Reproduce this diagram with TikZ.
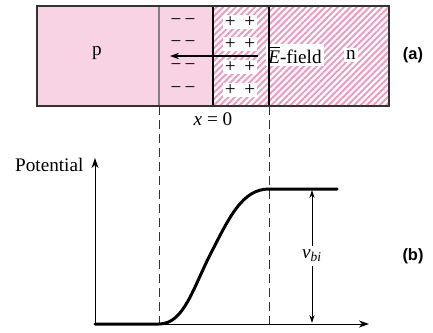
\documentclass[tikz,border=0pt]{standalone}
\usepackage{fontspec}
\setmainfont{Liberation Serif}
\newfontfamily\labfont{Liberation Sans}
\usetikzlibrary{patterns.meta,arrows.meta}
\definecolor{pfill}{HTML}{F8D3E4}
\definecolor{hatch}{HTML}{F296BE}
\definecolor{edge}{HTML}{333333}
\begin{document}
\begin{tikzpicture}[x=0.5pt,y=-0.5pt,
  txt/.style={font=\fontsize{9.6}{11}\selectfont, inner sep=0.6pt},
  wbox/.style={txt, fill=white, inner sep=1.2pt},
  tag/.style={font=\labfont\bfseries\fontsize{8.2}{10}\selectfont, inner sep=0pt},
  dashline/.style={edge, line width=0.45pt, dash pattern=on 4.5pt off 2.5pt},
  curve/.style={line width=1.5pt, line cap=round},
  axis/.style={line width=0.5pt}]
\useasboundingbox (0,0) rectangle (433,332);
% regions
\fill[pfill] (37,6) rectangle (213,106);
\fill[white] (213,6) rectangle (389,106);
\fill[pattern={Lines[angle=45,distance=2.25pt,line width=0.95pt]}, pattern color=hatch] (213,6) rectangle (389,106);
% signs
\foreach \yy in {22,44,67,90}{
  \node[txt] at (183,\yy) {−\,−};
  \node[txt, fill=white, inner sep=0.8pt] at (240,\yy) {+\;\,+};
}
% field arrow and labels
\node[wbox] (ef) at (295,55) {$\overline{\mbox{\textit{E}}}$-field};
\node[wbox] (n) at (351,55) {n};
\coordinate (eend) at (170,56);
\draw[line width=0.85pt, -{Stealth[length=4.5pt,width=3.2pt]}] (258,56) -- (eend);
\node[txt] (p) at (97,53) {p};
% outlines
\draw[gray, line width=0.6pt] (159,6) -- (159,106);
\draw[black, line width=0.6pt] (213,6) -- (213,106);
\draw[black, line width=0.6pt] (269,6) -- (269,106);
\draw[edge, line width=0.7pt] (37,6) rectangle (389,106);
\node[tag] (a) at (413,55) {(a)};
% x = 0
\node[txt] (x0) at (213,119) {\textit{x} = 0};
% dashed lines
\draw[dashline] (159,106) -- (159,324);
\draw[dashline] (269,106) -- (269,324);
% axes
\coordinate (o) at (95,324);
\coordinate (ytop) at (95,158);
\coordinate (xend) at (369,324);
\draw[axis, -{Stealth[length=5pt,width=3.5pt,inset=1.5pt]}] (o) -- (ytop);
\draw[axis, -{Stealth[length=5pt,width=3.5pt,inset=1.5pt]}] (o) -- (xend);
\node[txt, anchor=east] (pot) at (85,165) {Potential};
% curve
\draw[curve] (95,324) -- (159,324)
  .. controls (184,324) and (193,288) .. (211,253)
  .. controls (229,218) and (242,189) .. (269,189) -- (337,189);
% v_bi
\coordinate (vt) at (312,190);
\coordinate (vb) at (312,323);
\node[txt, fill=white, inner sep=2pt] (vbi) at (312,256) {\textit{v}\textsubscript{\textit{bi}}};
\draw[axis, -{Stealth[length=4pt,width=2.6pt]}] (vbi) -- (vt);
\draw[axis, -{Stealth[length=4pt,width=2.6pt]}] (vbi) -- (vb);
\node[tag] (b) at (413,256) {(b)};
\end{tikzpicture}
\end{document}
